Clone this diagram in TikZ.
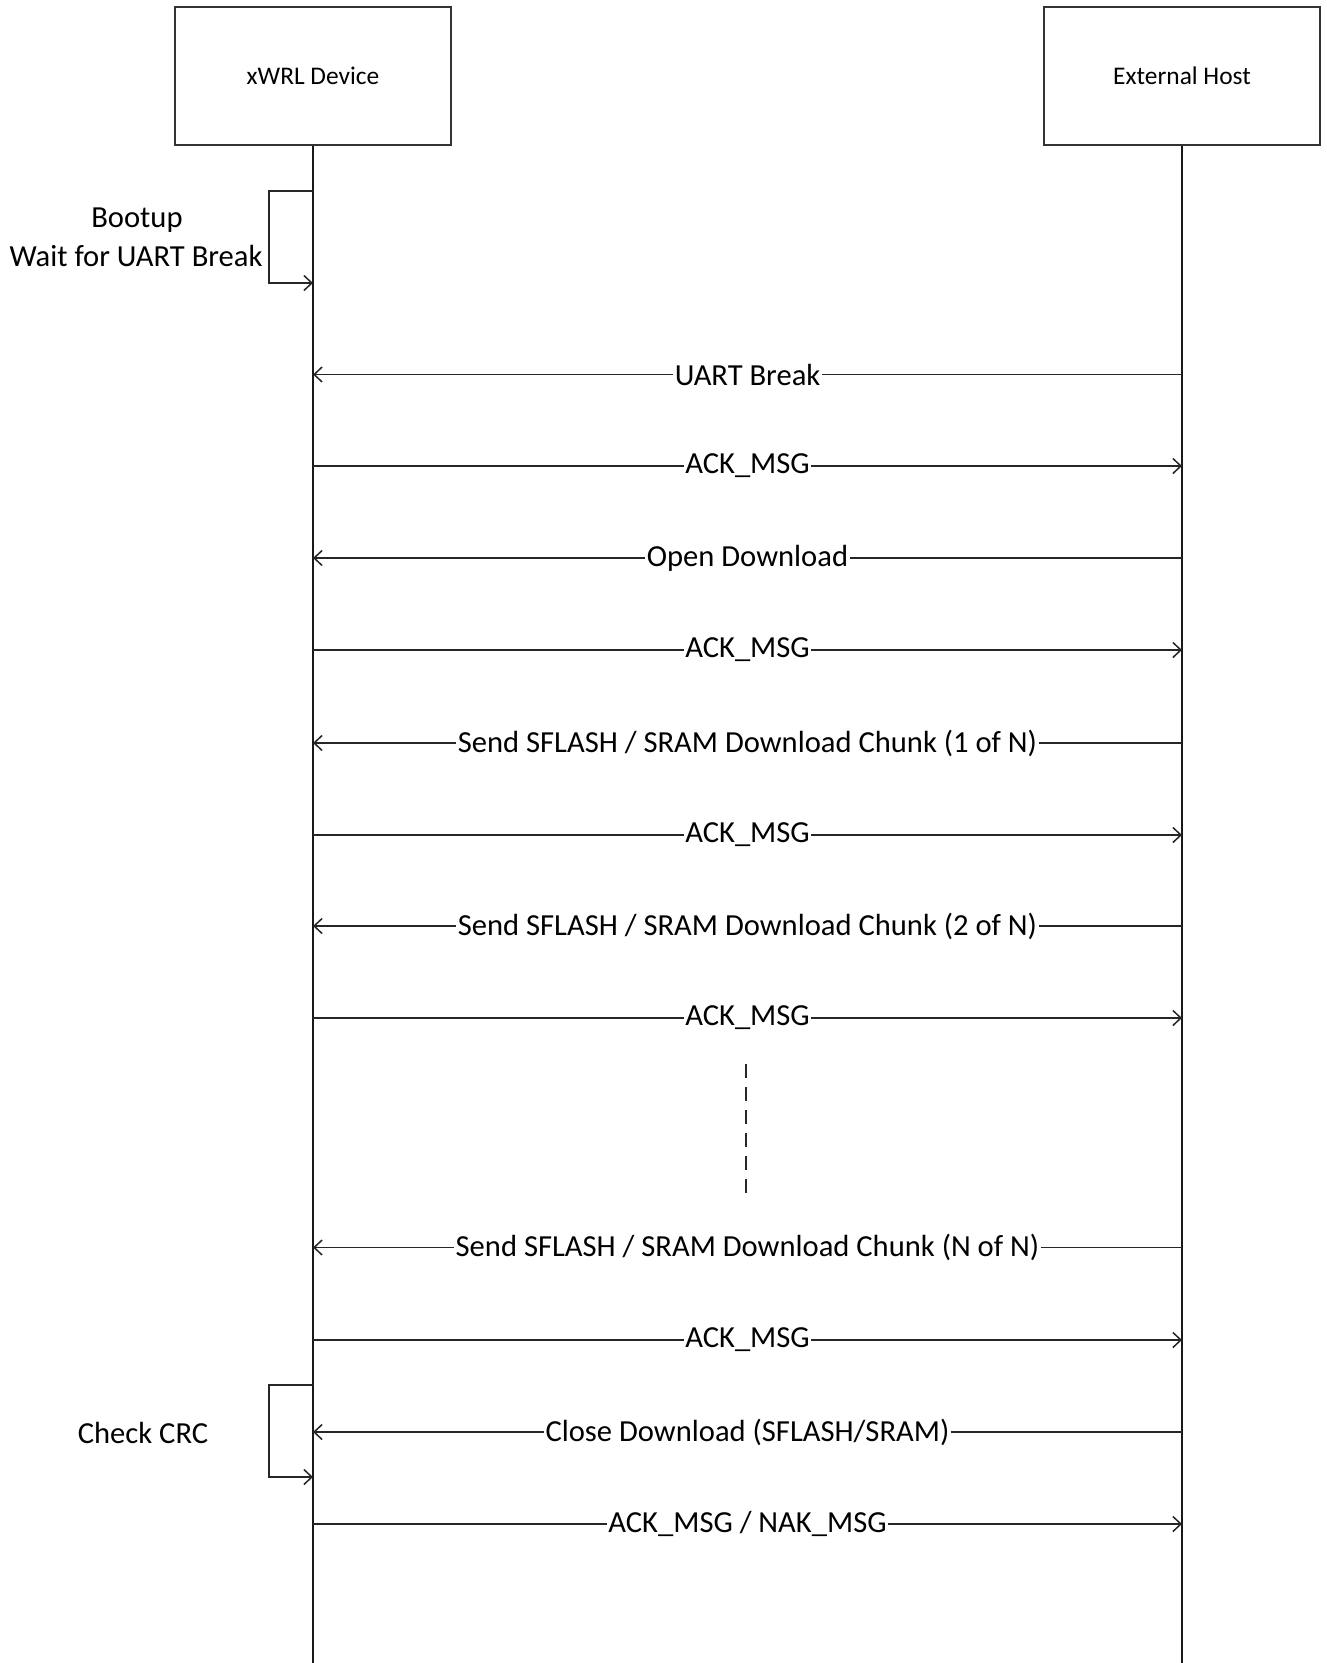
\documentclass[tikz,border=0pt]{standalone}
\usepackage{fontspec}
\setmainfont{Carlito}
\usetikzlibrary{arrows.meta}
\begin{document}
\begin{tikzpicture}[x=1pt,y=-1pt,
  line/.style={draw=black!85,line width=1.9pt},
  msg/.style={line,-{Straight Barb[length=8pt,width=15pt,line width=1.5pt]}},
  actor/.style={draw=black!80,line width=2pt,minimum width=276pt,minimum height=138pt,inner sep=0pt,font=\fontsize{25.4}{30}\selectfont},
  lbl/.style={fill=white,inner sep=1.5pt,font=\fontsize{30.6}{36}\selectfont},
  note/.style={inner sep=0pt,font=\fontsize{30.6}{36}\selectfont,align=center}]
\useasboundingbox (0,0) rectangle (1326,1663);
% actors
\node[actor] (dev) at (313,76) {xWRL Device};
\node[actor] (host) at (1182,76) {External Host};
\coordinate (devend) at (313,1663);
\coordinate (hostend) at (1182,1663);
\draw[line,draw=black!90] (dev.south) -- (devend);
\draw[line,draw=black!90] (host.south) -- (hostend);
% bootup self loop
\coordinate (b1) at (313,191);
\coordinate (b2) at (269,191);
\coordinate (b3) at (269,283);
\coordinate (b4) at (313,283);
\draw[msg] (b1) -- (b2) -- (b3) -- (b4);
\node[note] (bootup) at (137,220) {Bootup};
\node[note] (waitbrk) at (136,256) {Wait for UART Break};
% messages
\foreach \n/\y in {1/374.5,2/466,3/558,4/650,5/743,6/835,7/926,8/1018,9/1247.5,10/1340,11/1432,12/1524}{
  \coordinate (d\n) at (313,\y);
  \coordinate (h\n) at (1182,\y);
}
\draw[msg] (h1) -- node[lbl] (m1) {UART Break} (d1);
\draw[msg] (d2) -- node[lbl] (m2) {ACK\_MSG} (h2);
\draw[msg] (h3) -- node[lbl] (m3) {Open Download} (d3);
\draw[msg] (d4) -- node[lbl] (m4) {ACK\_MSG} (h4);
\draw[msg] (h5) -- node[lbl] (m5) {Send SFLASH / SRAM Download Chunk (1 of N)} (d5);
\draw[msg] (d6) -- node[lbl] (m6) {ACK\_MSG} (h6);
\draw[msg] (h7) -- node[lbl] (m7) {Send SFLASH / SRAM Download Chunk (2 of N)} (d7);
\draw[msg] (d8) -- node[lbl] (m8) {ACK\_MSG} (h8);
\draw[msg] (h9) -- node[lbl] (m9) {Send SFLASH / SRAM Download Chunk (N of N)} (d9);
\draw[msg] (d10) -- node[lbl] (m10) {ACK\_MSG} (h10);
\draw[msg] (h11) -- node[lbl] (m11) {Close Download (SFLASH/SRAM)} (d11);
\draw[msg] (d12) -- node[lbl] (m12) {ACK\_MSG / NAK\_MSG} (h12);
% ellipsis
\coordinate (e1) at (746,1064);
\coordinate (e2) at (746,1193);
\draw[line,dash pattern=on 14pt off 9pt] (e1) -- (e2);
% check CRC self loop
\coordinate (c1) at (313,1385);
\coordinate (c2) at (269,1385);
\coordinate (c3) at (269,1477);
\coordinate (c4) at (313,1477);
\draw[msg] (c1) -- (c2) -- (c3) -- (c4);
\node[note] (crc) at (143,1433) {Check CRC};
\end{tikzpicture}
\end{document}
